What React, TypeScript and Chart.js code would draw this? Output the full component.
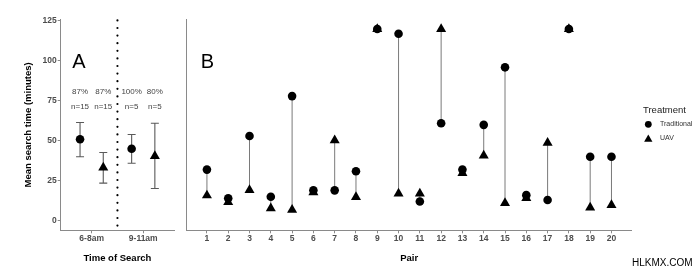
import React, { useEffect, useRef } from 'react';
import { Chart, registerables } from 'chart.js';

Chart.register(...registerables);

// ---------- data ----------
const timeCategories = ['6-8am', '9-11am'];
const traditionalMeanA = [51, 45];
const traditionalLowA = [40, 36];
const traditionalHighA = [61.5, 54];
const uavMeanA = [33.3, 40.5];
const uavLowA = [23.5, 20.2];
const uavHighA = [42.7, 61];
const successLabels = [['87%', '87%'], ['100%', '80%']];
const sampleLabels = [['n=15', 'n=15'], ['n=5', 'n=5']];

const pairs = [1, 2, 3, 4, 5, 6, 7, 8, 9, 10, 11, 12, 13, 14, 15, 16, 17, 18, 19, 20];
const traditionalB = [32, 14, 53, 15, 78, 19, 19, 31, 120, 117, 12, 61, 32, 60, 96, 16, 13, 120, 40, 40];
const uavB = [15.8, 11.6, 19.2, 7.8, 6.8, 17.8, 50.3, 14.8, 120, 17, 17, 120, 29.8, 40.8, 11, 14.2, 48.8, 120, 8.2, 9.8];

const yTicks = [0, 25, 50, 75, 100, 125];
const yMin = -6;
const yMax = 126;
const percentLabelY = 81;
const sampleLabelY = 71.3;

// ---------- styles ----------
const FONT = '"Liberation Sans", Arial, Helvetica, sans-serif';
const AXIS_COLOR = '#8a8a8a';
const TICK_TEXT = '#4d4d4d';
const CIRCLE_R = 4.3;
const TRI_R = 5.8;
const DODGE = 0.225;
const CHART_TOP = 19.4;
const CHART_BOTTOM = 230.3;
const H = 271;

function yScaleCfg(showLabels: boolean, width: number) {
  return {
    type: 'linear' as const,
    min: yMin,
    max: yMax,
    afterBuildTicks: (s: any) => {
      s.ticks = yTicks.map((v) => ({ value: v }));
    },
    afterFit: (s: any) => {
      s.width = width;
    },
    ticks: {
      display: showLabels,
      color: TICK_TEXT,
      font: { family: FONT, size: 8.5, weight: 'bold' as const },
      padding: 1,
    },
    grid: { display: showLabels, drawOnChartArea: false, tickLength: 3, color: AXIS_COLOR },
    border: { display: true, color: AXIS_COLOR, width: 1 },
    title: {
      display: showLabels,
      text: 'Mean search time (minutes)',
      color: '#000',
      font: { family: FONT, size: 9.5, weight: 'bold' as const },
      padding: { top: 22.4, bottom: 0 },
    },
  };
}

const panelAPlugin = {
  id: 'panelA',
  beforeDatasetsDraw(chart: any) {
    const { ctx, chartArea, scales } = chart;
    const xs = scales.x;
    const ys = scales.y;
    ctx.save();
    // dotted divider
    ctx.strokeStyle = '#000';
    ctx.lineWidth = 2.2;
    ctx.lineCap = 'round';
    ctx.setLineDash([0, 7.6]);
    const dx = xs.getPixelForValue(1.5);
    ctx.beginPath();
    ctx.moveTo(dx, chartArea.top + 1);
    ctx.lineTo(dx, chartArea.bottom);
    ctx.stroke();
    ctx.setLineDash([]);
    ctx.lineCap = 'butt';
    // error bars
    ctx.strokeStyle = '#5a5a5a';
    ctx.lineWidth = 1.1;
    const drawBar = (xv: number, lo: number, hi: number) => {
      const x = xs.getPixelForValue(xv);
      const yl = ys.getPixelForValue(lo);
      const yh = ys.getPixelForValue(hi);
      ctx.beginPath();
      ctx.moveTo(x, yl);
      ctx.lineTo(x, yh);
      ctx.moveTo(x - 4, yl);
      ctx.lineTo(x + 4, yl);
      ctx.moveTo(x - 4, yh);
      ctx.lineTo(x + 4, yh);
      ctx.stroke();
    };
    timeCategories.forEach((_, i) => {
      drawBar(i + 1 - DODGE, traditionalLowA[i], traditionalHighA[i]);
      drawBar(i + 1 + DODGE, uavLowA[i], uavHighA[i]);
    });
    ctx.restore();
  },
  afterDraw(chart: any) {
    const { ctx, chartArea, scales } = chart;
    const xs = scales.x;
    const ys = scales.y;
    ctx.save();
    ctx.fillStyle = '#000';
    ctx.font = `20px ${FONT}`;
    ctx.textAlign = 'left';
    ctx.textBaseline = 'middle';
    ctx.fillText('A', chartArea.left + 11.5, 62);
    ctx.fillStyle = '#444';
    ctx.font = `8px ${FONT}`;
    ctx.textAlign = 'center';
    timeCategories.forEach((_, i) => {
      [-DODGE, DODGE].forEach((d, j) => {
        const x = xs.getPixelForValue(i + 1 + d);
        ctx.fillText(successLabels[i][j], x, ys.getPixelForValue(percentLabelY));
        ctx.fillText(sampleLabels[i][j], x, ys.getPixelForValue(sampleLabelY));
      });
    });
    ctx.restore();
  },
};

const panelBPlugin = {
  id: 'panelB',
  beforeDatasetsDraw(chart: any) {
    const { ctx, scales } = chart;
    const xs = scales.x;
    const ys = scales.y;
    ctx.save();
    ctx.strokeStyle = '#7a7a7a';
    ctx.lineWidth = 1;
    pairs.forEach((p, i) => {
      const x = xs.getPixelForValue(p);
      ctx.beginPath();
      ctx.moveTo(x, ys.getPixelForValue(traditionalB[i]));
      ctx.lineTo(x, ys.getPixelForValue(uavB[i]));
      ctx.stroke();
    });
    ctx.restore();
  },
  afterDraw(chart: any) {
    const { ctx, chartArea } = chart;
    ctx.save();
    ctx.fillStyle = '#000';
    ctx.font = `20px ${FONT}`;
    ctx.textAlign = 'left';
    ctx.textBaseline = 'middle';
    ctx.fillText('B', chartArea.left + 14, 62);
    // legend
    const lx = 463;
    ctx.fillStyle = '#222';
    ctx.font = `9.5px ${FONT}`;
    ctx.fillText('Treatment', lx, 110);
    ctx.fillStyle = '#000';
    ctx.beginPath();
    ctx.arc(lx + 5.3, 124.3, 3.4, 0, Math.PI * 2);
    ctx.fill();
    const tr = 4.8;
    const tcx = lx + 5.3;
    const tcy = 139.4;
    ctx.beginPath();
    ctx.moveTo(tcx, tcy - tr);
    ctx.lineTo(tcx + tr * Math.sin((2 * Math.PI) / 3), tcy - tr * Math.cos((2 * Math.PI) / 3));
    ctx.lineTo(tcx - tr * Math.sin((2 * Math.PI) / 3), tcy - tr * Math.cos((2 * Math.PI) / 3));
    ctx.closePath();
    ctx.fill();
    ctx.fillStyle = '#333';
    ctx.font = `7px ${FONT}`;
    ctx.fillText('Traditional', lx + 17, 124.3);
    ctx.fillText('UAV', lx + 17, 138.3);
    ctx.restore();
  },
};

function xTitle(text: string) {
  return {
    display: true,
    text,
    color: '#000',
    font: { family: FONT, size: 9.5, weight: 'bold' as const },
    padding: { top: 0, bottom: 7.4 },
  };
}

const commonOptions = {
  responsive: false,
  animation: false as const,
  events: [] as any[],
  plugins: { legend: { display: false }, tooltip: { enabled: false } },
};

export default function App() {
  const refA = useRef<HTMLCanvasElement>(null);
  const refB = useRef<HTMLCanvasElement>(null);

  useEffect(() => {
    document.body.style.margin = '0';
    const chartA = new Chart(refA.current!, {
      type: 'scatter',
      data: {
        datasets: [
          {
            label: 'Traditional',
            data: timeCategories.map((_, i) => ({ x: i + 1 - DODGE, y: traditionalMeanA[i] })),
            pointStyle: 'circle',
            pointRadius: CIRCLE_R,
            backgroundColor: '#000',
            borderColor: '#000',
            borderWidth: 0,
          },
          {
            label: 'UAV',
            data: timeCategories.map((_, i) => ({ x: i + 1 + DODGE, y: uavMeanA[i] })),
            pointStyle: 'triangle',
            pointRadius: TRI_R,
            backgroundColor: '#000',
            borderColor: '#000',
            borderWidth: 0,
          },
        ],
      },
      options: {
        ...commonOptions,
        layout: { padding: { left: 0, right: 180 - 177.3, top: CHART_TOP, bottom: 0 } },
        scales: {
          x: {
            type: 'linear',
            min: 0.4,
            max: 2.6,
            afterBuildTicks: (s: any) => {
              s.ticks = timeCategories.map((_, i) => ({ value: i + 1 }));
            },
            afterFit: (s: any) => {
              s.height = H - CHART_BOTTOM;
            },
            ticks: {
              callback: (v: any) => timeCategories[Math.round(v) - 1],
              color: TICK_TEXT,
              font: { family: FONT, size: 8.5, weight: 'bold' },
              padding: 0,
              maxRotation: 0,
              autoSkip: false,
            },
            grid: { drawOnChartArea: false, tickLength: 3, color: AXIS_COLOR },
            border: { display: true, color: AXIS_COLOR, width: 1 },
            title: xTitle('Time of Search'),
          },
          y: yScaleCfg(true, 60.7),
        },
      } as any,
      plugins: [panelAPlugin],
    });

    const chartB = new Chart(refB.current!, {
      type: 'scatter',
      data: {
        datasets: [
          {
            label: 'Traditional',
            data: pairs.map((p, i) => ({ x: p, y: traditionalB[i] })),
            pointStyle: 'circle',
            pointRadius: CIRCLE_R,
            backgroundColor: '#000',
            borderColor: '#000',
            borderWidth: 0,
          },
          {
            label: 'UAV',
            data: pairs.map((p, i) => ({ x: p, y: uavB[i] })),
            pointStyle: 'triangle',
            pointRadius: TRI_R,
            backgroundColor: '#000',
            borderColor: '#000',
            borderWidth: 0,
          },
        ],
      },
      options: {
        ...commonOptions,
        layout: { padding: { left: 186.7 - 180, right: 520 - (631.7 - 180), top: CHART_TOP, bottom: 0 } },
        scales: {
          x: {
            type: 'linear',
            min: 0.05,
            max: 20.95,
            afterBuildTicks: (s: any) => {
              s.ticks = pairs.map((p) => ({ value: p }));
            },
            afterFit: (s: any) => {
              s.height = H - CHART_BOTTOM;
            },
            ticks: {
              callback: (v: any) => String(v),
              color: TICK_TEXT,
              font: { family: FONT, size: 8.5, weight: 'bold' },
              padding: 0,
              maxRotation: 0,
              autoSkip: false,
            },
            grid: { drawOnChartArea: false, tickLength: 3, color: AXIS_COLOR },
            border: { display: true, color: AXIS_COLOR, width: 1 },
            title: xTitle('Pair'),
          },
          y: yScaleCfg(false, 0),
        },
      } as any,
      plugins: [panelBPlugin],
    });

    return () => {
      chartA.destroy();
      chartB.destroy();
    };
  }, []);

  return (
    <div style={{ position: 'relative', width: 700, height: H, background: '#fff', overflow: 'hidden' }}>
      <canvas ref={refA} width={180} height={H} style={{ position: 'absolute', left: 0, top: 0, width: 180, height: H }} />
      <canvas ref={refB} width={520} height={H} style={{ position: 'absolute', left: 180, top: 0, width: 520, height: H }} />
      <div
        style={{
          position: 'absolute',
          left: 632,
          top: 257,
          fontFamily: FONT,
          fontSize: 10,
          lineHeight: '12px',
          color: '#000',
          whiteSpace: 'nowrap',
        }}
      >
        HLKMX.COM
      </div>
    </div>
  );
}
